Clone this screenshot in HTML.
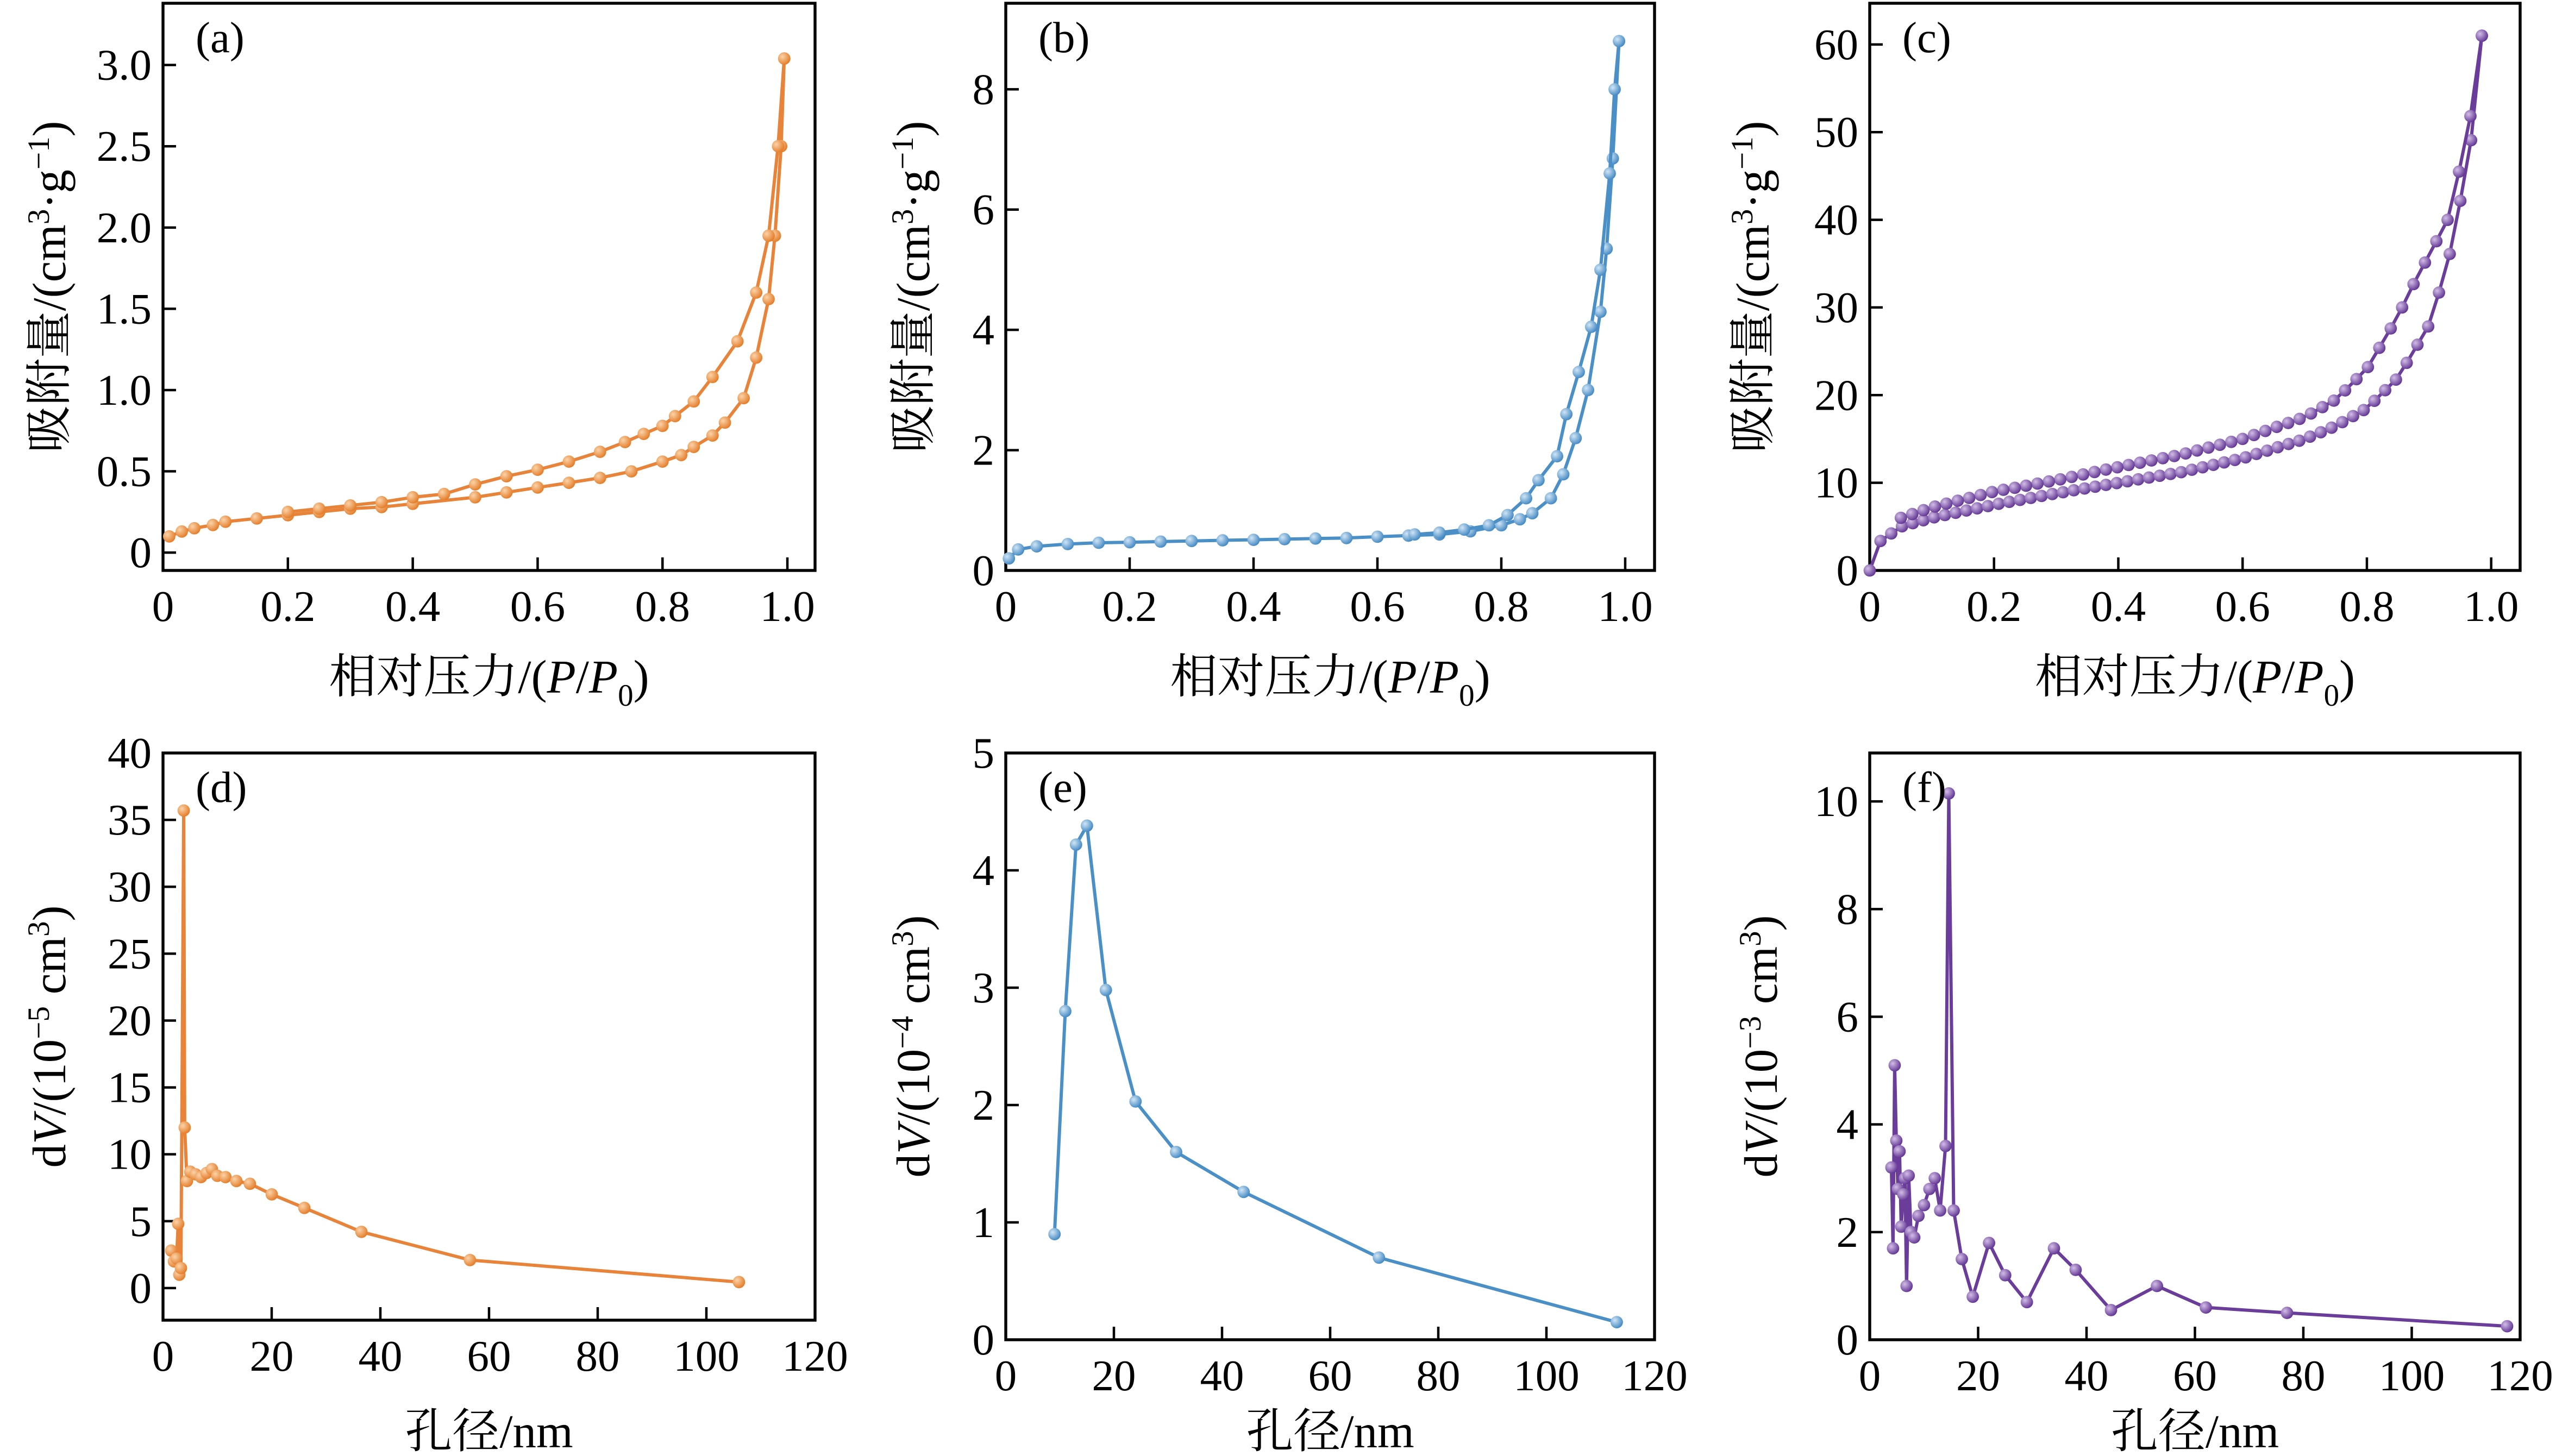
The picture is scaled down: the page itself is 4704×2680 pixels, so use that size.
<!DOCTYPE html>
<html><head><meta charset="utf-8"><style>html,body{margin:0;padding:0;background:#fff}svg{display:block}svg text{font-family:"Liberation Serif","Noto Serif CJK SC",serif}</style></head>
<body>
<svg id="s" xmlns="http://www.w3.org/2000/svg" width="4704" height="2680" viewBox="0 0 1568 893.33">
<defs>
<radialGradient id="go" cx="0.35" cy="0.35" r="0.7"><stop offset="0" stop-color="#fbd3a8"/><stop offset="1" stop-color="#e37a25"/></radialGradient>
<radialGradient id="gb" cx="0.35" cy="0.35" r="0.7"><stop offset="0" stop-color="#cfe5f5"/><stop offset="1" stop-color="#3f86c2"/></radialGradient>
<radialGradient id="gp" cx="0.35" cy="0.35" r="0.7"><stop offset="0" stop-color="#d2bde6"/><stop offset="1" stop-color="#5e3191"/></radialGradient>
</defs>
</svg>
<script>
const S=document.getElementById('s');let h='';
function panel(o){
 const {x0,x1,y0,y1,xv0,xv1,yv0,yv1}=o;
 const X=v=>x0+(v-xv0)/(xv1-xv0)*(x1-x0), Y=v=>y1-(v-yv0)/(yv1-yv0)*(y1-y0);
 h+=`<rect x="${x0}" y="${y0}" width="${x1-x0}" height="${y1-y0}" fill="none" stroke="#000" stroke-width="1.8"/>`;
 o.xt.forEach(t=>{const px=X(t[0]);h+=`<line x1="${px}" y1="${y1}" x2="${px}" y2="${y1-8}" stroke="#000" stroke-width="1.5"/><text x="${px}" y="${y1+31}" font-size="27" text-anchor="middle">${t[1]}</text>`;});
 o.yt.forEach(t=>{const py=Y(t[0]);h+=`<line x1="${x0}" y1="${py}" x2="${x0+8}" y2="${py}" stroke="#000" stroke-width="1.5"/><text x="${x0-7}" y="${py+9}" font-size="27" text-anchor="end">${t[1]}</text>`;});
 o.series.forEach(sr=>{h+=`<polyline fill="none" stroke="${o.c}" stroke-width="2" points="${sr.map(p=>X(p[0]).toFixed(1)+','+Y(p[1]).toFixed(1)).join(' ')}"/>`;
  sr.forEach(p=>h+=`<circle cx="${X(p[0]).toFixed(1)}" cy="${Y(p[1]).toFixed(1)}" r="3.8" fill="url(#${o.g})"/>`);});
 h+=`<text x="${x0+20}" y="${y0+30}" font-size="27">${o.lab}</text>`;
 h+=`<text transform="translate(${o.ylx},${(y0+y1)/2}) rotate(-90)" font-size="29" text-anchor="middle">${o.yl}</text>`;
 h+=`<text x="${(x0+x1)/2}" y="${o.xly}" font-size="29" text-anchor="middle">${o.xl}</text>`;
}
function interp(pts,n){pts=pts.slice().sort((a,b)=>a[0]-b[0]);const r=[];for(let i=0;i<n;i++){const x=pts[0][0]+(pts[pts.length-1][0]-pts[0][0])*i/(n-1);for(let j=0;j<pts.length-1;j++){if(x>=pts[j][0]-1e-9&&x<=pts[j+1][0]+1e-9){const t=(x-pts[j][0])/(pts[j+1][0]-pts[j][0]||1);r.push([x,pts[j][1]+t*(pts[j+1][1]-pts[j][1])]);break;}}}return r;}
const YLA='吸附量/(cm<tspan dy="-10" font-size="19">3</tspan><tspan dy="10">·g</tspan><tspan dy="-10" font-size="19">−1</tspan><tspan dy="10">)</tspan>';
const XLA='相对压力/(<tspan font-style="italic">P</tspan>/<tspan font-style="italic">P</tspan><tspan dy="8" font-size="19">0</tspan><tspan dy="-8">)</tspan>';
const dv=e=>`d<tspan font-style="italic">V</tspan>/(10<tspan dy="-10" font-size="19">−${e}</tspan><tspan dy="10"> cm</tspan><tspan dy="-10" font-size="19">3</tspan><tspan dy="10">)</tspan>`;
const pxt=[[0,'0'],[0.2,'0.2'],[0.4,'0.4'],[0.6,'0.6'],[0.8,'0.8'],[1,'1.0']];
const aA=[[0.01,0.1],[0.03,0.13],[0.05,0.15],[0.08,0.17],[0.1,0.19],[0.15,0.21],[0.2,0.23],[0.25,0.25],[0.3,0.27],[0.35,0.28],[0.4,0.3],[0.5,0.34],[0.55,0.37],[0.6,0.4],[0.65,0.43],[0.7,0.46],[0.75,0.5],[0.8,0.56],[0.83,0.6],[0.85,0.65],[0.88,0.72],[0.9,0.8],[0.93,0.95],[0.95,1.2],[0.97,1.56],[0.98,1.95],[0.99,2.5],[0.995,3.04]];
const aD=[[0.995,3.04],[0.985,2.5],[0.97,1.95],[0.95,1.6],[0.92,1.3],[0.88,1.08],[0.85,0.93],[0.82,0.84],[0.8,0.78],[0.77,0.73],[0.74,0.68],[0.7,0.62],[0.65,0.56],[0.6,0.51],[0.55,0.47],[0.5,0.42],[0.45,0.36],[0.4,0.34],[0.35,0.31],[0.3,0.29],[0.25,0.27],[0.2,0.25]];
panel({x0:100,x1:500,y0:2,y1:350,xv0:0,xv1:1.0443,yv0:-0.11,yv1:3.38,xt:pxt,yt:[[0,'0'],[0.5,'0.5'],[1,'1.0'],[1.5,'1.5'],[2,'2.0'],[2.5,'2.5'],[3,'3.0']],series:[aA,aD],c:'#e8843a',g:'go',lab:'(a)',ylx:40,yl:YLA,xly:425,xl:XLA});
const bA=[[0.005,0.2],[0.02,0.35],[0.05,0.4],[0.1,0.44],[0.15,0.46],[0.2,0.47],[0.25,0.48],[0.3,0.49],[0.35,0.5],[0.4,0.51],[0.45,0.52],[0.5,0.53],[0.55,0.54],[0.6,0.56],[0.65,0.58],[0.7,0.6],[0.75,0.65],[0.8,0.75],[0.83,0.85],[0.85,0.95],[0.88,1.2],[0.9,1.6],[0.92,2.2],[0.94,3.0],[0.96,4.3],[0.97,5.35],[0.98,6.85],[0.99,8.8]];
const bD=[[0.99,8.8],[0.983,8.0],[0.975,6.6],[0.96,5.0],[0.945,4.05],[0.925,3.3],[0.905,2.6],[0.89,1.9],[0.86,1.5],[0.84,1.2],[0.81,0.92],[0.78,0.75],[0.74,0.68],[0.7,0.63],[0.66,0.6]];
panel({x0:617,x1:1015,y0:2,y1:350,xv0:0,xv1:1.0474,yv0:0,yv1:9.43,xt:pxt,yt:[[0,'0'],[2,'2'],[4,'4'],[6,'6'],[8,'8']],series:[bA,bD],c:'#4a8fc6',g:'gb',lab:'(b)',ylx:570,yl:YLA,xly:425,xl:XLA});
const cA=interp([[0,0],[0.01,3],[0.05,5],[0.1,6],[0.2,7.5],[0.3,8.8],[0.4,10],[0.5,11.2],[0.6,12.8],[0.7,15],[0.75,16.5],[0.8,18.5],[0.85,22],[0.9,28],[0.93,35],[0.95,42],[0.97,50],[0.98,57],[0.985,61]],58);
const cD=interp([[0.985,61],[0.98,58],[0.97,53],[0.95,46],[0.93,40],[0.9,36],[0.87,32],[0.85,29],[0.8,23],[0.75,19.5],[0.7,17.5],[0.6,15],[0.5,13.2],[0.4,11.8],[0.3,10.3],[0.2,9],[0.1,7.2],[0.05,6]],52);
cD.reverse();
panel({x0:1147,x1:1546,y0:2,y1:350,xv0:0,xv1:1.0466,yv0:0,yv1:64.7,xt:pxt,yt:[[0,'0'],[10,'10'],[20,'20'],[30,'30'],[40,'40'],[50,'50'],[60,'60']],series:[cA,cD],c:'#6b3d9a',g:'gp',lab:'(c)',ylx:1085,yl:YLA,xly:425,xl:XLA});
const nxt=[[0,'0'],[20,'20'],[40,'40'],[60,'60'],[80,'80'],[100,'100'],[120,'120']];
const d=[[1.5,2.8],[2,2],[2.5,2.2],[2.8,4.8],[3,1.0],[3.3,1.5],[3.8,35.7],[4,12],[4.4,8],[5,8.7],[6,8.5],[7,8.3],[8,8.6],[9,8.9],[10,8.4],[11.5,8.3],[13.5,8.0],[16,7.8],[20,7],[26,6],[36.5,4.2],[56.5,2.1],[106,0.45]];
panel({x0:100,x1:500,y0:462,y1:810,xv0:0,xv1:120,yv0:-2.4,yv1:40,xt:nxt,yt:[[0,'0'],[5,'5'],[10,'10'],[15,'15'],[20,'20'],[25,'25'],[30,'30'],[35,'35'],[40,'40']],series:[d],c:'#e8843a',g:'go',lab:'(d)',ylx:40,yl:dv(5),xly:888,xl:'孔径/nm'});
const e=[[9,0.9],[11,2.8],[13,4.22],[15,4.38],[18.5,2.98],[24,2.03],[31.5,1.6],[44,1.26],[69,0.7],[113,0.15]];
panel({x0:617,x1:1015,y0:462,y1:822,xv0:0,xv1:120,yv0:0,yv1:5,xt:nxt,yt:[[0,'0'],[1,'1'],[2,'2'],[3,'3'],[4,'4'],[5,'5']],series:[e],c:'#4a8fc6',g:'gb',lab:'(e)',ylx:570,yl:dv(4),xly:888,xl:'孔径/nm'});
const f=[[4,3.2],[4.3,1.7],[4.6,5.1],[4.9,3.7],[5.2,2.8],[5.5,3.5],[5.8,2.1],[6.2,2.7],[6.5,3.0],[6.8,1.0],[7.2,3.05],[7.6,2.0],[8.2,1.9],[9,2.3],[10,2.5],[11,2.8],[12,3.0],[13,2.4],[14,3.6],[14.6,10.15],[15.5,2.4],[17,1.5],[19,0.8],[22,1.8],[25,1.2],[29,0.7],[34,1.7],[38,1.3],[44.5,0.55],[53,1.0],[62,0.6],[77,0.5],[117.6,0.25]];
panel({x0:1147,x1:1546,y0:462,y1:822,xv0:0,xv1:120,yv0:0,yv1:10.9,xt:nxt,yt:[[0,'0'],[2,'2'],[4,'4'],[6,'6'],[8,'8'],[10,'10']],series:[f],c:'#6b3d9a',g:'gp',lab:'(f)',ylx:1090,yl:dv(3),xly:888,xl:'孔径/nm'});
S.innerHTML+=h;
</script>
</body></html>
